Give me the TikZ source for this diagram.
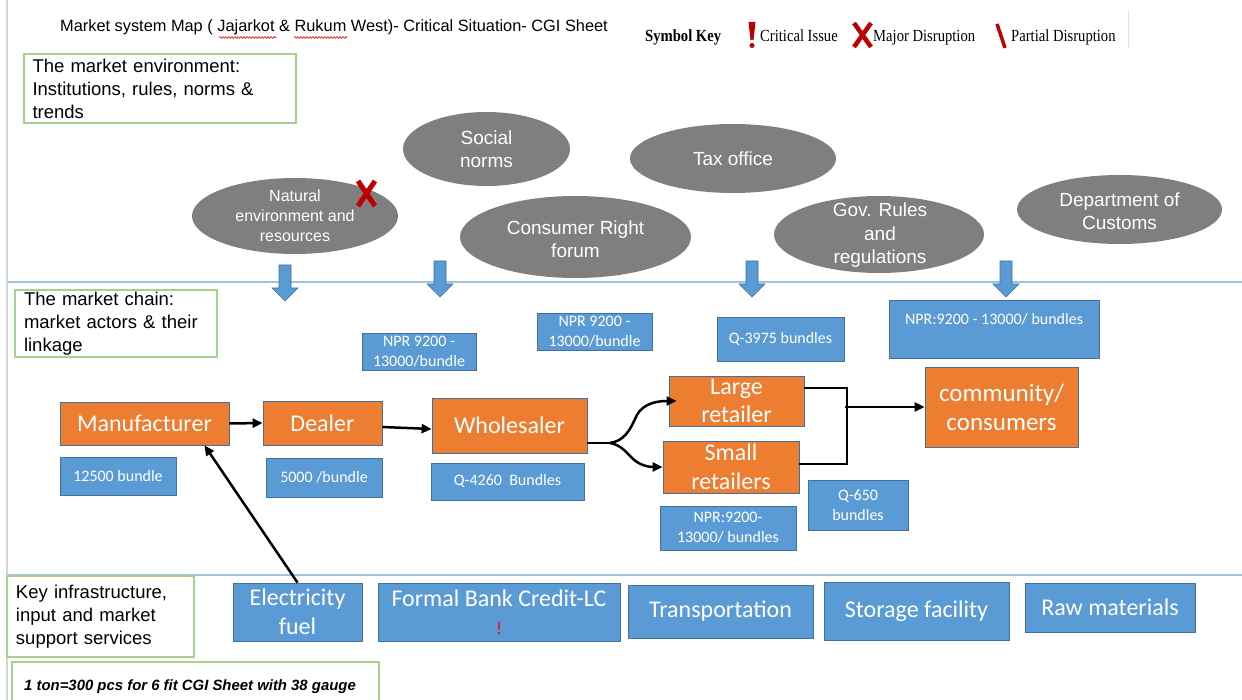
\documentclass[tikz,border=0pt]{standalone}
\usepackage{fontspec}
\setmainfont{Liberation Sans}
\newfontfamily\calfont{Carlito}
\newfontfamily\keyfont[FakeStretch=0.86]{Liberation Serif}
\usetikzlibrary{arrows.meta,shapes.geometric,decorations.pathmorphing}

\definecolor{accorange}{HTML}{ED7D31}
\definecolor{accblue}{HTML}{5B9BD5}
\definecolor{blueedge}{HTML}{41719C}
\definecolor{ellgray}{HTML}{7F7F7F}
\definecolor{boxgreen}{HTML}{A9D18E}
\definecolor{rulerblue}{HTML}{9DC3E6}
\definecolor{markred}{HTML}{C00000}
\definecolor{pagegray}{HTML}{D6D6D6}

\newcommand\fsz[2]{\fontsize{#1}{#2}\selectfont}

\tikzset{
  greenbox/.style={draw=boxgreen, line width=1.2pt, inner sep=0pt, align=left,
    font=\fsz{18.5}{23}},
  grayell/.style={ellipse, fill=ellgray, inner sep=0pt},
  elltext/.style={text=white, align=center, inner sep=0pt, font=\fsz{19}{23}},
  bluebox/.style={rectangle, fill=accblue, draw=blueedge, line width=0.8pt,
    text=white, align=center, inner sep=0pt, font=\calfont\fsz{16}{20}},
  orangebox/.style={rectangle, fill=accorange, draw=blueedge, line width=0.8pt,
    text=white, align=center, inner sep=0pt, font=\calfont\fsz{24}{28.5}},
  infrabox/.style={bluebox, font=\calfont\fsz{24}{28.5}},
  thickline/.style={line width=2.5pt},
  link/.style={thickline, -{Triangle[length=10pt,width=9pt]}},
  divider/.style={rulerblue, line width=2pt},
  spellmark/.style={red, line width=0.6pt,
    decorate, decoration={snake, amplitude=0.9pt, segment length=3pt}},
  dnarrow/.pic={
    \fill[accblue, draw=blueedge, line width=0.6pt]
      (-6,0) -- (6,0) -- (6,23) -- (13,23) -- (0,36) -- (-13,23) -- (-6,23) -- cycle;
  }
}

\begin{document}
\begin{tikzpicture}[x=1pt,y=-1pt]
\useasboundingbox (0,0) rectangle (1242,700);

% page edge and key separator
\draw[pagegray, line width=1.5pt] (7,0) -- (7,700);
\draw[pagegray!70, line width=1pt] (1128,10) -- (1128,48);

% title with spell-check underlines
\node[anchor=base west, inner sep=0pt, font=\fsz{16.35}{19}] (title) at (60,32)
  {Market system Map ( Jajarkot \& Rukum West)- Critical Situation- CGI Sheet};
\draw[spellmark] (219,37.5) -- (276,37.5);
\draw[spellmark] (294,37.5) -- (347,37.5);

% symbol key
\node[anchor=base west, inner sep=0pt, font=\keyfont\bfseries\fsz{17}{20}] (keyhead) at (645,42) {Symbol Key};
\fill[markred] (748.5,22) -- (755.5,22) -- (753.5,40) -- (750.5,40) -- cycle;
\fill[markred] (752,45.5) circle (2.5);
\node[anchor=base west, inner sep=0pt, font=\keyfont\fsz{17}{20}] (keycrit) at (760,42) {Critical Issue};
\draw[markred, line width=4.5pt] (854,23) -- (871,47) (871,23) -- (854,47);
\node[anchor=base west, inner sep=0pt, font=\keyfont\fsz{17}{20}] (keymajor) at (873,42) {Major Disruption};
\draw[markred, line width=3.5pt] (997,24) -- (1005,48);
\node[anchor=base west, inner sep=0pt, font=\keyfont\fsz{17}{20}] (keypartial) at (1011,42) {Partial Disruption};

% section dividers
\draw[divider] (8,282) -- (1242,282);
\draw[divider] (8,575) -- (1242,575);

% market environment
\node[greenbox, minimum width=272, minimum height=69, text width=255] (envbox) at (160,88.5)
  {The market environment:\\Institutions, rules, norms \&\\trends};

\node[grayell, minimum width=167, minimum height=74] (social) at (486.5,149) {};
\node[elltext] (socialT) at (486.5,149.5) {Social\\norms};
\node[grayell, minimum width=206, minimum height=69] (tax) at (733,158.5) {};
\node[elltext] (taxT) at (733,159) {Tax office};
\node[grayell, minimum width=206, minimum height=76] (nat) at (295,216) {};
\node[elltext, font=\fsz{16}{20}] (natT) at (295,216) {Natural\\environment and\\resources};
\node[grayell, minimum width=231, minimum height=82] (cons) at (575.5,237) {};
\node[elltext] (consT) at (575.5,239.5) {Consumer Right\\forum};
\node[grayell, minimum width=210, minimum height=77] (gov) at (879,234.5) {};
\node[elltext, font=\fsz{19}{23.5}] (govT) at (880,235.5) {Gov. Rules\\and\\regulations};
\node[grayell, minimum width=205, minimum height=69] (cust) at (1119.5,209.5) {};
\node[elltext] (custT) at (1119.5,211.5) {Department of\\Customs};

% disruption mark on natural environment
\draw[markred, line width=5pt] (358,181) -- (375,206) (375,181) -- (358,206);

% influence arrows
\pic at (285,265) {dnarrow};
\pic at (440,261) {dnarrow};
\pic at (752,261) {dnarrow};
\pic at (1006,261) {dnarrow};

% market chain
\node[greenbox, minimum width=202, minimum height=67, text width=184] (chainbox) at (116,323.5)
  {The market chain:\\market actors \& their\\linkage};

\node[bluebox, minimum width=114, minimum height=37] (npra) at (419,351.5) {NPR 9200 -\\13000/bundle};
\node[bluebox, minimum width=115, minimum height=37] (nprb) at (594.5,331.5) {NPR 9200 -\\13000/bundle};
\node[bluebox, minimum width=127, minimum height=44] (qlarge) at (780.5,339) {Q-3975 bundles};
\node[bluebox, minimum width=210, minimum height=58] (nprc) at (994,329) {NPR:9200 - 13000/ bundles\\~};

\node[orangebox, minimum width=169, minimum height=43] (manu) at (144.5,423.5) {Manufacturer};
\node[orangebox, minimum width=119, minimum height=44] (dealer) at (322.5,423) {Dealer};
\node[orangebox, minimum width=155, minimum height=55] (whole) at (509.5,425.5) {Wholesaler};
\node[orangebox, minimum width=135, minimum height=50] (large) at (736.5,401) {Large\\retailer};
\node[orangebox, minimum width=136, minimum height=52] (small) at (731,467) {Small\\retailers};
\node[orangebox, minimum width=153, minimum height=80, font=\calfont\fsz{25}{29}] (comm) at (1001.5,407) {community/\\consumers};

\node[bluebox, minimum width=116, minimum height=38] (qmanu) at (118,476) {12500 bundle};
\node[bluebox, minimum width=116, minimum height=39] (qdealer) at (324,477.5) {5000 /bundle};
\node[bluebox, minimum width=153, minimum height=37] (qwhole) at (507.5,481.5) {Q-4260\ \ Bundles};
\node[bluebox, minimum width=136, minimum height=44] (nprd) at (728,528) {NPR:9200-\\13000/ bundles};
\node[bluebox, minimum width=100, minimum height=50] (qsmall) at (858,505) {Q-650\\bundles};

% links along the chain
\draw[link] (manu.east) -- (dealer.west);
\draw[link] ([yshift=-4pt]dealer.east) -- ([yshift=-3.5pt]whole.west);
\coordinate (fork) at (610,443);
\draw[thickline] ([yshift=-17.5pt]whole.east) -- (fork);
\draw[link] (fork) .. controls (624,441) and (630,430) .. (635,419)
  .. controls (640,406) and (652,401) .. ([xshift=8pt]large.west);
\draw[link] (fork) .. controls (621,445) and (626,452) .. (632,458)
  .. controls (640,466) and (650,467) .. (small.west);
\coordinate (jtop) at (847,388);
\coordinate (jbot) at (847,464);
\coordinate (jmid) at (845,407);
\draw[thickline] ([yshift=13pt]large.east) -- (jtop) -- (jbot) -- ([yshift=3pt]small.east);
\draw[link] (jmid) -- (comm.west |- jmid);

% support services
\node[greenbox, minimum width=187, minimum height=81, text width=169] (infrabox) at (100.5,616.5)
  {Key infrastructure,\\input and market\\support services};

\node[infrabox, minimum width=129, minimum height=58] (elec) at (297.5,612) {Electricity\\fuel};
\node[infrabox, minimum width=242, minimum height=58] (bank) at (499,612) {Formal Bank Credit-LC\\{\color{red}\fsz{18}{20}!}};
\node[infrabox, minimum width=185, minimum height=53] (trans) at (720.5,611.5) {Transportation};
\node[infrabox, minimum width=185, minimum height=58] (stor) at (916.5,611) {Storage facility};
\node[infrabox, minimum width=170, minimum height=49] (raw) at (1110,607.5) {Raw materials};

\draw[link] (elec.north) -- ([xshift=60pt]manu.south);

% conversion note
\draw[boxgreen, line width=1.2pt] (12,702) -- (12,662) -- (379,662) -- (379,702);
\node[anchor=base west, inner sep=0pt, font=\bfseries\itshape\fsz{14.9}{17}] (note) at (24,690.5)
  {1 ton=300 pcs for 6 fit CGI Sheet with 38 gauge};
\end{tikzpicture}
\end{document}
